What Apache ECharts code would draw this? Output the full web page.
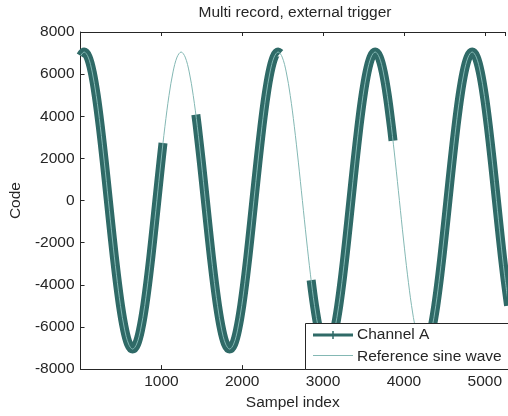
<!DOCTYPE html>
<html>
<head>
<meta charset="utf-8">
<script src="https://cdn.jsdelivr.net/npm/echarts@6/dist/echarts.min.js"></script>
<style>
  html, body { margin: 0; padding: 0; background: #fff; }
  #chart { width: 508px; height: 416px; }
</style>
</head>
<body>
<div id="chart"></div>
<script>
// Sample positions shared by the reference sine and the recorded channel
const sampleIndex = [
  1, 44, 94, 144, 194, 244, 294, 344, 394, 444, 494, 544, 594, 644, 694, 744, 794, 844, 894, 944, 994, 1044, 1094, 1144, 1194,
  1244, 1294, 1344, 1394, 1444, 1494, 1544, 1594, 1644, 1694, 1744, 1794, 1844, 1894, 1944, 1994, 2044, 2094, 2144, 2194,
  2244, 2294, 2344, 2394, 2444, 2494, 2544, 2594, 2644, 2694, 2744, 2794, 2844, 2894, 2944, 2994, 3044, 3094, 3144, 3194,
  3244, 3294, 3344, 3394, 3444, 3494, 3544, 3594, 3644, 3694, 3744, 3794, 3844, 3894, 3944, 3994, 4044, 4094, 4144, 4194,
  4244, 4294, 4344, 4394, 4444, 4494, 4544, 4594, 4644, 4694, 4744, 4794, 4844, 4894, 4944, 4994, 5044, 5094, 5144, 5194,
  5244, 5294
];

// Reference sine wave (code values)
const referenceWave = [
  6870, 7050, 6810, 6105, 4985, 3525, 1825, 0, -1825, -3525, -4985, -6105, -6810, -7050, -6810, -6105, -4985, -3525, -1825, 0, 1825, 3525, 4985, 6105, 6810,
  7050, 6810, 6105, 4985, 3525, 1825, 0, -1825, -3525, -4985, -6105, -6810, -7050, -6810, -6105, -4985, -3525, -1825, 0, 1825, 3525, 4985, 6105, 6810,
  7050, 6810, 6105, 4985, 3525, 1825, 0, -1825, -3525, -4985, -6105, -6810, -7050, -6810, -6105, -4985, -3525, -1825, 0, 1825, 3525, 4985, 6105, 6810,
  7050, 6810, 6105, 4985, 3525, 1825, 0, -1825, -3525, -4985, -6105, -6810, -7050, -6810, -6105, -4985, -3525, -1825, 0, 1825, 3525, 4985, 6105, 6810,
  7050, 6810, 6105, 4985, 3525, 1825, 0, -1825, -3525, -4985, -6105, -6810, -7050, -6810, -6105, -4985, -3525, -1825, 0, 1825, 3525, 4985, 6105, 6810,
  7050, 6810
];

// Channel A records (null separates the triggered records)
const channelAIndex = [
  1, 44, 94, 144, 194, 244, 294, 344, 394, 444, 494, 544, 594, 644, 694, 744, 794, 844, 894, 944, 994, 1020,
  1200,
  1426, 1444, 1494, 1544, 1594, 1644, 1694, 1744, 1794, 1844, 1894, 1944, 1994, 2044, 2094, 2144, 2194, 2244, 2294, 2344, 2394, 2444, 2470,
  2650,
  2852, 2894, 2944, 2994, 3044, 3094, 3144, 3194, 3244, 3294, 3344, 3394, 3444, 3494, 3544, 3594, 3644, 3694, 3744, 3794, 3844, 3865,
  4100,
  4220, 4244, 4294, 4344, 4394, 4444, 4494, 4544, 4594, 4644, 4694, 4744, 4794, 4844, 4894, 4944, 4994, 5044, 5094, 5144, 5194, 5244, 5294
];
const channelA = [
  6870, 7050, 6810, 6105, 4985, 3525, 1825, 0, -1825, -3525, -4985, -6105, -6810, -7050, -6810, -6105, -4985, -3525, -1825, 0, 1825, 2730,
  null,
  4080, 3525, 1825, 0, -1825, -3525, -4985, -6105, -6810, -7050, -6810, -6105, -4985, -3525, -1825, 0, 1825, 3525, 4985, 6105, 6810, 7050, 6985,
  null,
  -3775, -4985, -6105, -6810, -7050, -6810, -6105, -4985, -3525, -1825, 0, 1825, 3525, 4985, 6105, 6810, 7050, 6810, 6105, 4985, 3525, 2835,
  null,
  -6995, -7050, -6810, -6105, -4985, -3525, -1825, 0, 1825, 3525, 4985, 6105, 6810, 7050, 6810, 6105, 4985, 3525, 1825, 0, -1825, -3525, -4985
];

const xTicks = [1000, 2000, 3000, 4000, 5000];
const yTicks = [-8000, -6000, -4000, -2000, 0, 2000, 4000, 6000, 8000];

const FONT = 'Liberation Sans, Arial, sans-serif';
const FS = 15.5;
const INK = '#262626';
const DARK = '#2f6a67';
const LIGHT = '#84b8b4';

const pairs = (xs, ys) => xs.map((x, i) => [x, ys[i]]);

const chart = echarts.init(document.getElementById('chart'), null, { renderer: 'canvas' });

const xCommon = {
  type: 'value',
  min: 0,
  max: 5250,
  interval: 1000,
  splitLine: { show: false },
  axisLine: { show: true, onZero: false, lineStyle: { color: INK, width: 1 } },
  axisTick: { show: true, inside: true, length: 4, lineStyle: { color: INK, width: 1 } }
};

chart.setOption({
  animation: false,
  backgroundColor: '#fff',
  title: {
    text: 'Multi record, external trigger',
    left: 295,
    top: 5,
    padding: 0,
    textAlign: 'center',
    textStyle: { fontFamily: FONT, fontSize: FS, fontWeight: 'normal', color: INK }
  },
  grid: { left: 80, top: 32, right: -2, bottom: 42, containLabel: false },
  xAxis: [
    Object.assign({}, xCommon, {
      position: 'bottom',
      name: 'Sampel index',
      nameLocation: 'middle',
      nameGap: 23,
      nameTextStyle: { fontFamily: FONT, fontSize: FS, color: INK },
      axisLabel: {
        show: true, margin: 5, fontFamily: FONT, fontSize: FS, color: INK,
        formatter: v => (xTicks.indexOf(v) >= 0 ? String(v) : '')
      }
    }),
    Object.assign({}, xCommon, {
      position: 'top',
      axisLabel: { show: false }
    })
  ],
  yAxis: {
    type: 'value',
    min: -8000,
    max: 8000,
    interval: 2000,
    splitLine: { show: false },
    axisLine: { show: true, onZero: false, lineStyle: { color: INK, width: 1 } },
    axisTick: { show: true, inside: true, length: 4, lineStyle: { color: INK, width: 1 } },
    axisLabel: {
      margin: 6, fontFamily: FONT, fontSize: FS, color: INK,
      formatter: v => (yTicks.indexOf(v) >= 0 ? String(v) : '')
    },
    name: 'Code',
    nameLocation: 'middle',
    nameGap: 55,
    nameTextStyle: { fontFamily: FONT, fontSize: FS, color: INK }
  },
  series: [
    {
      name: 'Channel A',
      type: 'line',
      xAxisIndex: 0,
      data: pairs(channelAIndex, channelA),
      smooth: 0.35,
      connectNulls: false,
      showSymbol: false,
      symbol: 'none',
      lineStyle: { color: DARK, width: 9, cap: 'butt', join: 'round' },
      z: 2
    },
    {
      name: 'Reference sine wave',
      type: 'line',
      xAxisIndex: 0,
      data: pairs(sampleIndex, referenceWave),
      smooth: 0.35,
      showSymbol: false,
      symbol: 'none',
      lineStyle: { color: LIGHT, width: 1 },
      z: 3
    }
  ],
  graphic: [
    {
      type: 'group',
      left: 305,
      top: 323,
      z: 100,
      children: [
        { type: 'rect', z: 100, shape: { x: 0.5, y: 0.5, width: 210, height: 46 },
          style: { fill: '#fff', stroke: INK, lineWidth: 1 } },
        { type: 'line', z: 101, shape: { x1: 8, y1: 12, x2: 48, y2: 12 },
          style: { stroke: DARK, lineWidth: 3 } },
        { type: 'line', z: 101, shape: { x1: 28, y1: 8, x2: 28, y2: 16 },
          style: { stroke: DARK, lineWidth: 1.5 } },
        { type: 'text', z: 101, x: 52, y: 12,
          style: { text: 'Channel A', fontFamily: FONT, fontSize: FS, fill: INK, verticalAlign: 'middle' } },
        { type: 'line', z: 101, shape: { x1: 8, y1: 32.5, x2: 48, y2: 32.5 },
          style: { stroke: LIGHT, lineWidth: 1 } },
        { type: 'text', z: 101, x: 52, y: 34,
          style: { text: 'Reference sine wave', fontFamily: FONT, fontSize: FS, fill: INK, verticalAlign: 'middle' } }
      ]
    }
  ]
});
</script>
</body>
</html>
